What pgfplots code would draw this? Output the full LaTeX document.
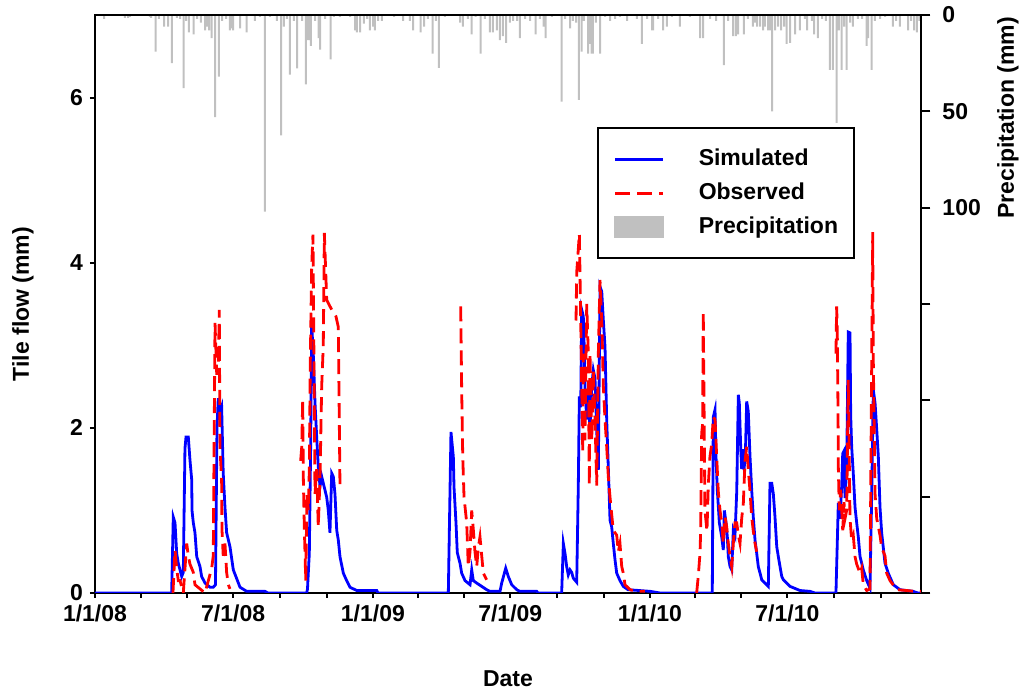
\documentclass[border=0pt]{standalone}
\usepackage{fontspec}
\setmainfont{Liberation Sans}
\usepackage{pgfplots}
\pgfplotsset{compat=1.18}
\definecolor{simblue}{RGB}{0,0,255}
\definecolor{obsred}{RGB}{255,0,0}
\definecolor{precipgray}{RGB}{192,192,192}
\newcommand{\chartfont}{\fontsize{11.5}{13.8}\selectfont\bfseries}
\pgfplotsset{
  every axis/.append style={
    scale only axis,
    width=413pt, height=289pt,
    xmin=0, xmax=1088,
    enlargelimits=false,
    tick label style={font=\chartfont},
    label style={font=\chartfont},
    /pgf/number format/assume math mode=true,
    axis line style={line width=1pt},
    tick style={line width=1pt, black},
    tick align=outside,
  },
  linelegend/.style={legend image code/.code={\draw[##1] (0pt,0pt) -- (24pt,0pt);}},
  barlegend/.style={legend image code/.code={\fill[precipgray] (0pt,-5pt) rectangle (24pt,5pt);}},
}

\begin{document}
\begin{tikzpicture}
% precipitation, reversed on the right axis
\begin{axis}[
    name=precip,
    axis x line=none,
    axis y line*=right,
    y dir=reverse,
    ymin=0, ymax=300,
    ytick={0,50,100,150,200,250,300},
    yticklabels={0,50,100,,,,},
    yticklabel style={xshift=2.5pt},
    major tick length=4.7pt,
    ylabel={Precipitation (mm)},
    ylabel style={at={(axis description cs:1.1053,0.822)}, anchor=center},
]
\addplot[ybar, bar width=1pt, bar shift=0pt, fill=precipgray, draw=none] table {
x P
11.9 2
39.5 1.5
43.5 1.5
46.1 1
72.4 1
73.8 1.5
80.0 19
84.3 2
90.9 6
96.2 6
101.4 25
108.0 1.5
112.0 2
116.8 38
119.9 3
123.8 9
130.0 10
134.4 2
139.6 4
144.9 8
147.5 6
150.2 8
153.7 12
158.1 53
163.3 32
167.3 3
172.6 2
177.8 8
180.5 7
181.8 8
191.0 7
199.8 9
210.7 3
217.3 1
223.9 102
230.5 1
239.7 3
245.0 62.5
248.9 6
252.9 2
256.8 31
262.1 3
266.1 27.7
272.7 3
277.9 36
280.6 13
283.2 13
284.5 16
289.8 3
294.7 12
296.4 18
303.0 2
310.5 23
314.8 1
322.7 1
335.9 1
342.5 8
345.1 9
349.1 9
354.3 4.5
358.3 2
362.2 8
366.2 6
368.8 8
372.8 3
378.0 3
393.9 1
405.7 3
414.9 3
418.9 8
429.0 9
433.4 6
438.6 2
444.8 20
449.1 3
453.1 27.5
461.0 1
480.8 4
484.7 6
491.3 2
496.2 10
501.5 1
507.8 20
513.5 2
520.0 9
524.2 9
529.4 8
533.4 13
537.4 11
541.4 14.5
546.6 4
550.6 3
555.9 3
559.8 12
566.4 2
573.0 3
580.5 10
586.1 2
591.0 6
593.7 12
601.9 1
614.7 45
619.1 2
625.7 7
629.6 3
633.6 4
637.5 44
641.1 19
644.1 3
649.4 20
652.0 15
654.0 20
655.9 20
659.9 4
665.2 20
671.8 1
678.4 3
685.0 2
691.5 1
700.8 3
713.9 2
720.5 15
727.1 2
733.7 8
735.0 8
741.6 2
748.2 8
753.4 6
760.0 1
770.5 6
783.7 1
796.9 12
800.9 12
810.1 2
818.0 3
828.5 26
833.8 3
840.4 11
844.3 11
847.0 10
854.8 10
860.1 2
866.7 6
869.3 4
872.0 6
876.0 6
879.9 8
882.5 6
886.5 8
889.1 8
891.8 50
895.7 8
899.7 6
903.6 8
907.6 6
911.1 15
915.5 14.5
922.1 10
928.6 8
935.2 2
937.9 8
944.4 3
947.1 10
952.3 12
957.6 2
962.8 3
968.1 28.5
972.0 28.5
976.9 56
979.9 8
983.6 28.5
986.6 6
990.1 28.5
994.5 4
998.4 6
1005.0 2
1010.3 2
1016.5 16
1018.2 12
1023.1 28.5
1027.4 3
1034.0 2
1040.6 1
1051.1 6
1055.1 3
1060.3 6
1070.9 8
1074.9 3
1078.8 8
1082.7 9
1086.0 3
};
\end{axis}

% tile flow on the left axis
\begin{axis}[
    name=main,
    ymin=0, ymax=7,
    ytick={0,2,4,6},
    xtick={0,60,121,182,244,305,366,425,486,547,609,670,731,790,851,912,974,1035},
    xticklabels={1/1/08,,,7/1/08,,,1/1/09,,,7/1/09,,,1/1/10,,,7/1/10,,},
    xtick pos=left, ytick pos=left,
    major tick length=2.5pt,
    xlabel={Date},
    ylabel={Tile flow (mm)},
    xlabel style={at={(axis description cs:0.5,0)}, anchor=center, yshift=-43pt},
    ylabel style={at={(axis description cs:-0.0872,0.5)}, anchor=center},
    unbounded coords=jump,
    legend cell align=left,
    legend style={at={(axis description cs:0.6077,0.806)}, anchor=north west,
      draw=black, line width=1pt, inner xsep=8pt, inner ysep=7pt,
      row sep=0pt, column sep=17pt, font=\chartfont,
      cells={anchor=west}, nodes={inner sep=0pt, minimum height=17pt}},
]
\addplot[simblue, line width=1.4pt, linelegend] table {
x Q
0 0
101.0 0
103.1 0.92
105.4 0.85
107.6 0.48
109.7 0.36
114.2 0.20
116.3 0.25
118.5 1.75
119.9 1.89
122.9 1.89
125.1 1.61
127.4 1.37
127.8 1.00
129.5 0.85
131.7 0.73
134.0 0.44
138.3 0.32
140.5 0.20
144.9 0.12
151.5 0.07
155.8 0.07
158.7 0.10
160.7 2.00
162.4 2.36
164.6 2.20
166.8 2.26
168.9 1.45
171.2 1.04
173.4 0.73
177.8 0.56
182.2 0.28
191.0 0.07
199.8 0.02
223.9 0.02
227.9 0
278.9 0
279.9 0.05
282.3 0.48
284.1 1.80
285.4 3.25
287.5 2.90
289.8 2.30
292.0 1.89
294.1 1.53
296.4 1.29
298.6 1.41
300.7 1.33
305.2 1.16
307.3 1.00
309.5 0.73
311.8 1.45
313.9 1.41
316.1 1.20
318.4 0.76
320.5 0.64
322.7 0.44
327.1 0.24
331.5 0.15
335.9 0.07
344.7 0.03
371.1 0.03
372.8 0
465.4 0
468.9 1.95
472.0 1.65
472.9 1.28
475.5 0.85
477.2 0.49
480.8 0.36
483.0 0.24
487.4 0.15
494.0 0.10
496.2 0.28
498.3 0.15
502.8 0.12
509.4 0.08
515.9 0.04
520.3 0.02
533.5 0.02
535.7 0.12
541.0 0.30
544.4 0.20
548.9 0.10
555.5 0.04
559.8 0.02
581.8 0.02
583.5 0
614.7 0
616.9 0.60
619.1 0.48
621.3 0.32
623.4 0.22
625.7 0.28
627.9 0.25
630.0 0.18
634.5 0.13
636.6 1.29
638.0 2.38
639.8 2.25
641.1 3.43
643.2 3.35
644.1 3.10
645.4 2.50
647.7 2.10
649.8 2.40
652.0 1.96
654.3 2.50
656.4 2.70
658.6 2.60
660.9 1.96
663.0 1.49
665.2 3.71
667.5 3.65
669.6 3.30
671.8 2.98
674.0 2.10
676.2 1.50
678.4 0.88
680.6 0.80
682.7 0.60
685.0 0.40
687.2 0.24
691.5 0.15
695.9 0.08
702.1 0.04
731.1 0.02
744.2 0
813.1 0
814.4 2.13
816.7 2.22
818.0 1.65
819.7 1.25
822.4 0.85
825.5 0.68
827.6 0.52
829.0 1.00
831.2 0.85
832.9 0.68
834.2 0.44
836.5 0.32
838.7 0.28
840.8 0.76
843.0 0.70
845.3 1.23
847.4 2.40
848.7 2.30
850.5 1.77
851.8 1.50
853.1 1.74
854.8 1.49
856.6 1.65
858.4 2.32
860.5 2.20
862.8 1.65
865.0 1.25
867.1 0.92
869.4 0.64
871.6 0.48
873.7 0.32
876.0 0.24
878.2 0.16
882.5 0.12
886.9 0.08
889.1 1.33
891.4 1.33
893.5 1.20
895.7 0.92
898.0 0.56
900.1 0.44
902.3 0.32
904.6 0.20
906.7 0.16
911.1 0.12
915.5 0.08
928.6 0.03
941.8 0.02
948.4 0
976.0 0
979.1 1.09
981.3 0.90
983.6 1.30
984.9 1.69
986.6 1.72
987.9 1.15
990.1 1.50
992.2 3.16
994.5 3.15
995.4 2.15
996.7 1.77
998.8 1.45
1001.1 1.04
1003.3 0.85
1005.4 0.68
1007.7 0.44
1009.9 0.36
1012.0 0.28
1016.5 0.15
1020.8 0.06
1023.1 1.20
1025.2 2.46
1027.5 2.30
1029.7 1.98
1031.8 1.65
1034.0 1.04
1036.2 0.73
1040.6 0.36
1044.9 0.24
1051.5 0.10
1060.3 0.04
1077.5 0.02
1084.0 0
1088 0
};
\addlegendentry{Simulated}
\addplot[obsred, line width=1.4pt, dash pattern=on 7.5pt off 3.5pt, linelegend] table {
x Q
102.7 0
105.4 0.52
107.6 0.30
109.7 0.15
112.0 0.15
116.3 0.00
120.8 0.60
122.9 0.45
125.1 0.35
129.5 0.25
131.7 0.10
138.3 0.05
144.9 0
153.7 0.30
155.8 0.45
158.1 3.27
160.3 2.66
162.4 2.66
163.7 3.43
164.6 1.77
166.8 1.36
167.3 0.76
168.9 0.45
171.2 0.60
173.4 0.25
175.6 0.10
177.8 0.05
nan nan
270.9 1.60
272.3 1.77
273.6 2.34
274.4 1.40
275.7 0.80
277.6 0.15
279.2 1.20
281.0 1.00
282.3 1.50
283.6 2.80
285.4 3.95
287.1 4.34
288.1 3.20
289.8 1.20
292.0 1.50
294.1 0.80
296.4 1.40
298.6 2.50
300.7 3.00
302.1 4.36
305.2 3.55
311.8 3.43
317.4 3.35
320.5 3.22
322.7 1.29
nan nan
481.7 3.47
483.0 2.46
484.4 1.65
486.1 1.16
489.6 0.85
491.7 0.32
494.0 0.50
496.2 1.00
498.3 0.77
500.5 0.50
502.8 0.32
504.9 0.55
507.1 0.68
509.4 0.45
511.5 0.24
515.9 0.16
nan nan
633.6 3.30
634.5 3.88
638.0 4.35
639.8 3.30
641.1 2.50
642.5 1.70
643.2 2.90
645.4 1.85
647.7 3.50
649.8 2.90
651.1 1.30
652.0 2.90
654.3 1.85
656.4 2.70
658.6 2.10
660.9 1.30
663.0 2.90
665.2 3.79
667.5 3.30
669.6 2.50
671.8 2.10
674.0 1.77
676.2 1.40
678.4 1.16
680.6 0.95
682.7 0.76
687.2 0.70
689.3 0.50
691.5 0.60
693.8 0.32
695.9 0.24
698.1 0.10
704.7 0.04
713.5 0.02
724.4 0.02
nan nan
792.5 0
794.6 0.20
796.9 0.48
797.8 0.75
799.1 1.93
800.4 2.05
801.2 3.41
803.4 1.00
806.1 0.75
807.8 1.30
810.0 1.65
812.3 1.80
814.4 2.13
816.7 2.10
818.9 1.65
821.0 1.23
823.3 1.00
825.5 0.85
827.6 0.60
829.9 0.92
832.1 0.80
834.2 0.60
836.5 0.44
838.7 0.32
840.8 0.60
843.0 0.85
845.3 0.85
847.4 0.70
849.6 0.60
851.8 0.90
854.0 1.09
856.2 1.60
858.4 1.77
860.5 1.50
862.8 1.23
865.0 0.92
867.1 0.75
869.4 0.60
871.6 0.50
nan nan
976.0 2.90
976.9 3.47
977.7 3.20
978.7 2.20
979.1 1.53
980.4 1.00
982.2 1.25
984.9 0.76
986.6 1.10
987.9 0.90
990.1 1.00
992.2 2.58
994.5 0.90
996.7 0.64
998.8 0.70
1001.1 0.44
1003.3 0.35
1007.7 0.24
1009.9 0.30
1012.0 0.10
1016.5 0.03
1020.8 0.05
1023.1 2.82
1024.4 4.37
1025.2 2.80
1027.5 1.20
1029.7 0.90
1034.0 0.70
1036.2 0.55
1040.6 0.45
1042.8 0.24
1047.2 0.15
1056.0 0.04
1069.2 0.03
1080.0 0.02
1088 0.02
};
\addlegendentry{Observed}
\addlegendimage{barlegend}
\addlegendentry{Precipitation}
\end{axis}
\pgfresetboundingbox
\path ([shift={(-47.5pt,-48.5pt)}]main.south west) rectangle ([shift={(52pt,7.5pt)}]main.north east);
\end{tikzpicture}
\end{document}
